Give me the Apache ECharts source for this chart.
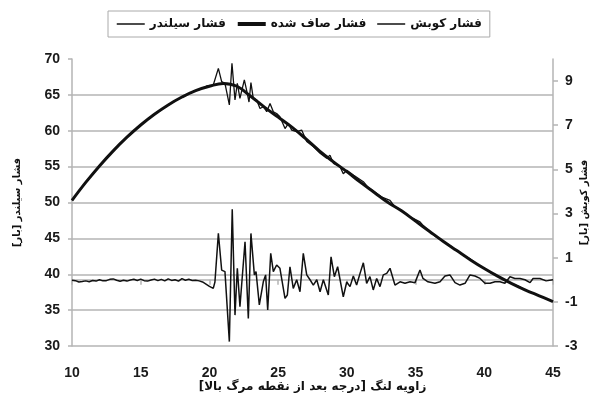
<!DOCTYPE html>
<html><head><meta charset="utf-8">
<script src="https://cdn.jsdelivr.net/npm/echarts@6/dist/echarts.min.js"></script>
<style>html,body{margin:0;padding:0;background:#fff}#c{width:599px;height:406px}</style>
</head><body><div id="c"></div>
<script>
// ---- data ----
const seriesNames = ['فشار سیلندر', 'فشار صاف شده', 'فشار کوبش'];
const xTitle = 'زاویه لنگ [درجه بعد از نقطه مرگ بالا]';
const leftTitle = 'فشار سیلندر [بار]';
const rightTitle = 'فشار کوبش [بار]';
const rightTicks = [-3, -1, 1, 3, 5, 7, 9];

const smoothAngle = [10,11,12,13,14,15,16,17,18,19,20,21,22,23,24,25,26,27,28,29,30,31,32,33,34,35,36,37,38,39,40,41,42,43,44,45];
const smoothValue = [50.3,52.8,55.1,57.2,59.1,60.8,62.3,63.6,64.7,65.6,66.2,66.6,66.2,64.8,63.3,61.9,60.5,58.9,57.2,55.7,54.3,52.8,51.4,50.0,48.8,47.4,46.0,44.6,43.3,42.0,40.8,39.7,38.7,37.8,37.0,36.2];

const cylAngle = [10,11,12,13,14,15,16,17,18,19,19.31,19.8,20.28,20.65,20.89,21.13,21.45,21.64,21.86,22.03,22.22,22.54,22.7,22.88,23.02,23.19,23.44,23.68,23.92,24.17,24.41,24.65,24.89,25.13,25.5,25.74,25.98,26.35,26.71,27.08,27.56,28.05,28.53,28.77,29.02,29.5,29.74,30,30.5,31.2,31.5,32,32.5,33.14,33.5,34,34.5,35.32,35.5,36,36.5,37,37.5,38,38.5,39,39.5,40,40.5,41,41.5,42,42.5,43,43.5,44,44.5,45];
const cylValue = [50.3,52.8,55.1,57.2,59.1,60.8,62.3,63.6,64.7,65.6,65.77,66.24,66.38,68.7,66.84,66.6,63.6,69.4,64.3,66.6,64.5,67.1,65.7,64.0,66.7,64.5,64.3,63.1,63.35,62.65,63.8,62.65,62.4,61.95,60.3,61.0,60.1,59.87,60.1,58.5,57.8,56.86,56.16,56.6,55.46,55.0,54.0,54.5,53.8,52.9,52.2,51.5,50.8,50.3,49.4,48.9,48.1,47.3,46.9,46.0,45.2,44.6,44.0,43.3,42.6,42.1,41.4,40.8,40.2,39.7,39.2,38.7,38.3,37.8,37.4,37.0,36.6,36.2];

const knockAngle = [10,10.25,10.5,10.75,11,11.25,11.5,11.75,12,12.25,12.5,12.75,13,13.25,13.5,13.75,14,14.25,14.5,14.75,15,15.25,15.5,15.75,16,16.25,16.5,16.75,17,17.25,17.5,17.75,18,18.25,18.5,18.75,19,19.25,19.5,19.75,20,20.28,20.4,20.65,20.89,21.13,21.45,21.66,21.86,22.03,22.22,22.59,22.83,23.02,23.27,23.39,23.63,23.92,24.09,24.24,24.46,24.65,24.89,25.13,25.5,25.67,25.86,26.1,26.35,26.59,26.83,27.08,27.32,27.56,27.81,28.05,28.29,28.65,28.85,29.09,29.33,29.45,29.74,29.99,30.23,30.47,30.71,30.96,31.2,31.44,31.68,31.92,32.17,32.41,32.65,32.9,33.14,33.5,33.87,34.23,34.6,34.96,35.32,35.54,35.9,36.41,36.78,37.14,37.5,37.87,38.23,38.6,38.96,39.32,39.69,40.05,40.42,40.78,41.14,41.5,41.87,42.23,42.6,42.96,43.33,43.55,44.05,44.5,45];
const knockValue = [-0.02,-0.04,-0.1,-0.08,-0.05,-0.09,-0.03,-0.06,0.0,-0.05,-0.04,0.02,0.04,-0.02,-0.07,-0.02,-0.06,-0.01,0.02,-0.03,0.03,-0.04,-0.06,-0.01,0.03,-0.04,0.02,-0.05,0.04,-0.03,0.0,-0.06,0.05,-0.02,0.02,-0.03,-0.02,-0.05,-0.1,-0.2,-0.3,-0.39,-0.1,2.1,0.44,0.37,-2.8,3.19,-1.6,0.52,-1.22,1.72,-1.75,2.1,0.22,0.37,-1.14,-0.09,0.22,-1.37,1.2,0.37,0.67,0.52,-0.84,-0.69,0.59,-0.39,0.0,-0.54,1.2,0.22,0.0,-0.24,0.0,-0.54,0.0,-0.69,1.04,0.14,0.59,0.67,-0.77,-0.1,-0.31,0.17,-0.24,0.29,0.77,-0.16,0.14,-0.46,0.06,-0.31,0.22,0.29,0.52,-0.24,-0.09,-0.16,-0.09,-0.13,0.44,0.06,-0.09,-0.16,-0.09,0.17,0.22,-0.13,-0.24,-0.16,0.22,0.17,0.06,-0.16,-0.16,-0.09,-0.09,-0.16,0.14,0.06,0.06,0.0,-0.13,0.06,0.06,-0.05,0.0];

const pairs = (a, b) => a.map((x, i) => [x, b[i]]);
const AR = 'DejaVu Sans';
const NUM = 'Liberation Sans';
const GRAY = '#b4b4b4';
const legendWidths = [1.5, 4, 1.5];

const chart = echarts.init(document.getElementById('c'), null, {renderer: 'canvas'});
chart.setOption({
  animation: false,
  backgroundColor: '#fff',
  grid: {left: 72, right: 46, top: 59, bottom: 60, outerBoundsMode: 'none'},
  legend: {
    data: seriesNames.map((n, i) => ({name: n, lineStyle: {width: legendWidths[i], color: '#111'}})),
    left: 108, top: 11,
    padding: [7, 8, 7, 8],
    borderColor: '#aaa', borderWidth: 1,
    itemGap: 10, itemWidth: 28, itemHeight: 12,
    itemStyle: {opacity: 0},
    textStyle: {fontFamily: AR, fontWeight: 'bold', fontSize: 12, color: '#111'}
  },
  xAxis: {
    type: 'value', min: 10, max: 45, interval: 5,
    name: xTitle, nameLocation: 'middle', nameGap: 35, nameMoveOverlap: false,
    nameTextStyle: {fontFamily: AR, fontWeight: 'bold', fontSize: 12, color: '#111'},
    axisLine: {lineStyle: {color: GRAY, width: 1.5}},
    axisTick: {show: true, length: 5, lineStyle: {color: GRAY, width: 1.5}},
    axisLabel: {fontFamily: NUM, fontWeight: 'bold', fontSize: 14, color: '#1a1a1a', margin: 20},
    splitLine: {show: false}
  },
  yAxis: [{
    type: 'value', min: 30, max: 70, interval: 5, position: 'left',
    name: leftTitle, nameLocation: 'middle', nameGap: 50, nameRotate: 90, nameMoveOverlap: false,
    nameTextStyle: {fontFamily: AR, fontWeight: 'bold', fontSize: 10, color: '#111'},
    axisLine: {show: true, lineStyle: {color: GRAY, width: 1.5}},
    axisTick: {show: true, length: 4, lineStyle: {color: GRAY, width: 1.5}},
    axisLabel: {fontFamily: NUM, fontWeight: 'bold', fontSize: 14, color: '#1a1a1a', margin: 12},
    splitLine: {show: true, showMaxLine: false, lineStyle: {color: GRAY, width: 1.5}}
  }, {
    type: 'value', min: -3, max: 10, position: 'right',
    name: rightTitle, nameLocation: 'middle', nameGap: 26, nameRotate: 90, nameMoveOverlap: false,
    nameTextStyle: {fontFamily: AR, fontWeight: 'bold', fontSize: 10, color: '#111'},
    axisLine: {show: true, lineStyle: {color: GRAY, width: 1.5}},
    axisTick: {show: true, length: 5, customValues: rightTicks, lineStyle: {color: GRAY, width: 1.5}},
    axisLabel: {customValues: rightTicks, fontFamily: NUM, fontWeight: 'bold', fontSize: 14, color: '#1a1a1a', margin: 12},
    splitLine: {show: false}
  }],
  series: [{
    name: seriesNames[0], type: 'line', yAxisIndex: 0, symbol: 'none',
    data: pairs(cylAngle, cylValue),
    lineStyle: {color: '#111', width: 1.3}, itemStyle: {color: '#111'}, z: 3
  }, {
    name: seriesNames[1], type: 'line', yAxisIndex: 0, symbol: 'none', smooth: 0.4,
    data: pairs(smoothAngle, smoothValue),
    lineStyle: {color: '#111', width: 3}, itemStyle: {color: '#111'}, z: 2
  }, {
    name: seriesNames[2], type: 'line', yAxisIndex: 1, symbol: 'none',
    data: pairs(knockAngle, knockValue),
    lineStyle: {color: '#111', width: 1.5}, itemStyle: {color: '#111'}, z: 3
  }]
});
</script></body></html>
